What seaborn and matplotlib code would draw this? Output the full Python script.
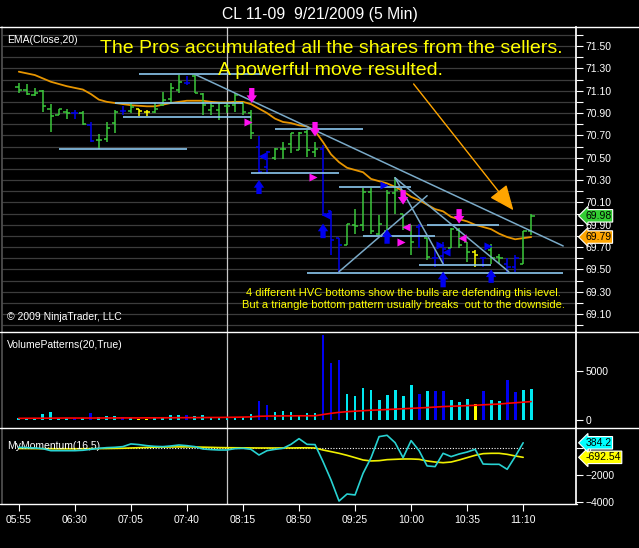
import numpy as np
import pandas as pd
import seaborn as sns
import matplotlib
matplotlib.use("Agg")
import matplotlib.pyplot as plt
from matplotlib.lines import Line2D
from matplotlib.ticker import FixedLocator

# ── Data ────────────────────────────────────────────────────────────────────────
tick_labels = ["05:55", "06:30", "07:05", "07:40", "08:15",
               "08:50", "09:25", "10:00", "10:35", "11:10"]

opens = [71.13, 71.11, 71.06, 71.10, 70.94, 70.88, 70.91, 70.90, 70.90, 70.79,
         70.66, 70.67, 70.81, 70.92, 70.92, 70.94, 70.91, 70.91, 70.97, 71.03,
         71.11, 71.17, 71.23, 71.07, 70.93, 70.93, 70.96, 70.97, 70.99, 70.90,
         70.60, 70.42, 70.50, 70.58, 70.62, 70.57, 70.73, 70.55, 70.58, 70.02,
         69.78, 69.72, 69.90, 69.90, 70.19, 69.82, 69.84, 70.18, 70.00, 69.90,
         69.88, 69.78, 69.60, 69.62, 69.69, 69.85, 69.75, 69.66, 69.60, 69.67,
         69.61, 69.55, 69.52, 69.55, 69.84]
highs = [71.17, 71.16, 71.12, 71.11, 70.98, 70.94, 70.94, 70.93, 70.92, 70.82,
         70.71, 70.82, 70.93, 70.96, 70.99, 70.94, 70.93, 70.99, 71.09, 71.17,
         71.24, 71.23, 71.24, 71.08, 70.99, 70.99, 70.99, 71.08, 71.00, 70.93,
         70.69, 70.56, 70.59, 70.64, 70.72, 70.73, 70.75, 70.64, 70.61, 70.02,
         69.78, 69.91, 70.04, 70.23, 70.23, 69.99, 70.21, 70.33, 70.00, 69.90,
         69.91, 69.78, 69.67, 69.75, 69.87, 69.87, 69.75, 69.67, 69.61, 69.73,
         69.64, 69.60, 69.63, 69.84, 70.00]
lows = [71.08, 71.06, 71.05, 70.91, 70.73, 70.88, 70.85, 70.85, 70.79, 70.64,
        70.58, 70.64, 70.72, 70.88, 70.90, 70.87, 70.87, 70.90, 70.96, 70.99,
        71.08, 71.15, 71.08, 70.88, 70.88, 70.84, 70.90, 70.91, 70.88, 70.67,
        70.36, 70.35, 70.48, 70.49, 70.54, 70.57, 70.51, 70.51, 69.98, 69.63,
        69.48, 69.72, 69.82, 69.84, 69.82, 69.81, 69.84, 70.00, 69.85, 69.63,
        69.69, 69.58, 69.52, 69.54, 69.69, 69.69, 69.57, 69.52, 69.52, 69.55,
        69.55, 69.48, 69.48, 69.55, 69.81]
closes = [71.11, 71.07, 71.08, 70.96, 70.87, 70.94, 70.90, 70.90, 70.80, 70.65,
          70.66, 70.77, 70.91, 70.92, 70.95, 70.92, 70.91, 70.94, 71.02, 71.12,
          71.18, 71.17, 71.08, 70.97, 70.96, 70.99, 70.96, 71.06, 70.91, 70.72,
          70.37, 70.55, 70.58, 70.58, 70.72, 70.72, 70.57, 70.58, 70.00, 69.76,
          69.72, 69.91, 69.89, 70.19, 69.84, 69.91, 70.18, 70.21, 69.88, 69.75,
          69.89, 69.61, 69.60, 69.68, 69.86, 69.72, 69.66, 69.63, 69.60, 69.60,
          69.60, 69.52, 69.60, 69.84, 69.98]
# g = normal, b = high volume, y = low volume
bar_type = list("gggggggbgb" "gggbgyyggg" "gbgggggggg" "bbggggggbb" "bggggggggg"
                "bgbbgggybg" "gbbgg")

ema20 = [71.27, 71.255, 71.24, 71.21, 71.18, 71.16, 71.14, 71.125, 71.11, 71.07,
         71.02, 71.00, 70.99, 70.98, 70.97, 70.965, 70.96, 70.96, 70.975, 70.99,
         71.00, 71.01, 71.01, 71.01, 71.00, 70.995, 70.995, 71.00, 71.00, 70.98,
         70.94, 70.90, 70.85, 70.82, 70.81, 70.79, 70.78, 70.74, 70.64, 70.53,
         70.46, 70.41, 70.39, 70.37, 70.31, 70.29, 70.27, 70.24, 70.20, 70.15,
         70.12, 70.08, 70.04, 70.02, 69.97, 69.95, 69.93, 69.90, 69.88, 69.86,
         69.82, 69.79, 69.77, 69.78, 69.79]

volume = [200, 200, 100, 650, 850, 240, 240, 200, 240, 750,
          270, 440, 440, 300, 200, 130, 130, 170, 300, 480,
          540, 540, 370, 540, 270, 300, 300, 300, 300, 650,
          1970, 1560, 780, 950, 850, 510, 750, 750, 8700, 5800,
          6150, 2700, 2400, 3260, 3100, 2070, 2580, 3100, 2480, 3600,
          2700, 2920, 3000, 3000, 2070, 1800, 2180, 1670, 2920, 2070,
          1900, 4100, 2820, 3100, 3200]
volume_avg = [170, 175, 180, 185, 190, 195, 200, 200, 200, 200,
              205, 205, 210, 215, 215, 215, 220, 220, 225, 230,
              235, 240, 245, 250, 255, 260, 270, 280, 300, 320,
              380, 400, 410, 420, 420, 430, 430, 430, 560, 680,
              780, 850, 900, 950, 1000, 1030, 1070, 1110, 1150, 1190,
              1230, 1270, 1320, 1370, 1400, 1430, 1470, 1500, 1550, 1590,
              1630, 1700, 1760, 1820, 1880]

momentum = [50, 25, 0, -50, -200, -200, -200, -200, -170, -100,
            -25, 25, 50, 100, 300, 250, 170, 120, 100, 150,
            220, 170, 100, -75, -120, -150, -150, -50, -25, -100,
            -520, -200, -100, -25, 270, 690, 270, 250, -1010, -2370,
            -3930, -3410, -3480, -1880, -720, 840, 940, 395, -720, 545,
            -200, -1330, -1380, -395, -640, -445, -300, -100, -1190, -1210,
            -1210, -1580, -640, 384.2]
mom_signal = [-40, -40, -45, -50, -55, -60, -60, -60, -55, -50,
              -45, -40, -30, -20, 0, 20, 40, 60, 70, 75,
              80, 80, 75, 60, 45, 30, 20, 15, 10, 5,
              0, 0, 0, 0, 0, 10, 15, 0, -150, -270,
              -395, -545, -715, -890, -960, -940, -865, -840, -815, -815,
              -840, -960, -1040, -1090, -1040, -890, -715, -545, -420, -395,
              -395, -470, -590, -692.54]

# drawn objects on the price panel (bar index / price)
hl_start = [15, 12, 13, 5, 32, 29, 40, 43, 51, 50, 36]
hl_end = [30.5, 28, 29, 21, 43, 40, 49, 52, 60, 59, 68]
hl_price = [71.246, 70.99, 70.86, 70.575, 70.76, 70.36, 70.234, 69.80, 69.894, 69.536, 69.464]

tl_x0 = [22, 47, 47, 40]
tl_y0 = [71.246, 70.32, 70.32, 69.48]
tl_x1 = [68, 61.2, 53, 51]
tl_y1 = [69.71, 69.48, 69.55, 70.16]

down_x = [29.1, 37, 48, 55]
down_top = [71.124, 70.82, 70.21, 70.04]
down_tip = [70.99, 70.69, 70.08, 69.91]
up_x = [30, 38, 46, 53, 59]
up_bottom = [70.175, 69.78, 69.73, 69.34, 69.38]
up_tip = [70.30, 69.91, 69.86, 69.48, 69.50]

tri_x = [28.6, 36.7, 47.7, 48.4, 55.4, 30.4, 38.4, 53.4, 45.6, 52.6, 58.6]
tri_y = [70.82, 70.33, 69.745, 69.88, 69.78, 70.515, 69.99, 69.66, 70.255, 69.72, 69.71]
tri_kind = ["m>", "m>", "m>", "m<", "m<", "b<", "b<", "b<", "b>", "b>", "b>"]

# ── Style ─────────────────────────────────────────────────────────────────────
sns.set_theme(style="dark", rc={
    "figure.facecolor": "black", "axes.facecolor": "black",
    "savefig.facecolor": "black", "axes.grid": False,
    "patch.edgecolor": "none",
})
plt.rcParams["font.family"] = ["Liberation Sans", "DejaVu Sans"]

GREEN, BLUE, YELLOW, CYAN = "#3CC83C", "#0000F0", "#FFFF00", "#00E8F0"
MAGENTA, ORANGE, LBLUE, DBLUE = "#FF10F0", "#E69500", "#8CC8F0", "#7AAAC8"
price_col = {"g": GREEN, "b": BLUE, "y": YELLOW}
vol_col = {"g": CYAN, "b": BLUE, "y": YELLOW}

n = len(closes)
df = pd.DataFrame({"bar": np.arange(n), "open": opens, "high": highs, "low": lows,
                   "close": closes, "ema": ema20, "vol": volume, "vavg": volume_avg,
                   "kind": bar_type})
dm = pd.DataFrame({"bar": np.arange(len(momentum)), "mom": momentum, "sig": mom_signal})

W, H = 639, 548
fig = plt.figure(figsize=(W / 100, H / 100), dpi=100)


def panel(top, bottom):
    return fig.add_axes([2 / W, 1 - bottom / H, 574 / W, (bottom - top) / H])


ax_p = panel(27, 332)
ax_v = panel(332, 427.7)
ax_m = panel(428, 504)

for ax in (ax_p, ax_v, ax_m):
    ax.set_xlim(-2.1, 69.6)
    for s in ("top", "bottom"):
        ax.spines[s].set_visible(False)
    ax.spines["left"].set_color("#505050")
    ax.spines["right"].set_color("white")
    ax.yaxis.tick_right()
    ax.tick_params(axis="y", which="both", direction="out", length=5, width=0.8,
                   color="white", labelcolor="white", labelsize=7.5, pad=2, right=True, left=False)
    ax.tick_params(axis="x", which="both", bottom=False, labelbottom=False)
    ax.axvline(26, color="#C8C8C8", lw=0.9, zorder=1)

# ── Price panel ────────────────────────────────────────────────────────────────
ax_p.set_ylim(68.94, 71.67)
ax_p.yaxis.set_major_locator(FixedLocator(np.round(np.arange(69.1, 71.6, 0.2), 2)))
ax_p.yaxis.set_minor_locator(FixedLocator(np.round(np.arange(69.0, 71.7, 0.2), 2)))
ax_p.yaxis.set_major_formatter(plt.FormatStrFormatter("%.2f"))
ax_p.grid(axis="y", which="both", color="#3C3C3C", lw=0.9)

cols = [price_col[k] for k in df["kind"]]
ax_p.vlines(df["bar"], df["low"], df["high"], colors=cols, lw=1.1, zorder=4)
ax_p.hlines(df["open"], df["bar"] - 0.42, df["bar"], colors=cols, lw=1.1, zorder=4)
ax_p.hlines(df["close"], df["bar"], df["bar"] + 0.42, colors=cols, lw=1.1, zorder=4)
sns.lineplot(data=df, x="bar", y="ema", ax=ax_p, color=ORANGE, lw=1.3, legend=False, zorder=3)

ax_p.hlines(hl_price, hl_start, hl_end, colors=LBLUE, lw=1.2, zorder=5)
for x0, y0, x1, y1 in zip(tl_x0, tl_y0, tl_x1, tl_y1):
    ax_p.plot([x0, x1], [y0, y1], color=DBLUE, lw=1.1, zorder=5)

arrow_style = "simple,head_length=0.55,head_width=0.75,tail_width=0.38"
for x, y0, y1 in zip(down_x, down_top, down_tip):
    ax_p.annotate("", xy=(x, y1), xytext=(x, y0),
                  arrowprops=dict(arrowstyle=arrow_style, color=MAGENTA, lw=0, mutation_scale=10,
                                  shrinkA=0, shrinkB=0),
                  zorder=6)
for x, y0, y1 in zip(up_x, up_bottom, up_tip):
    ax_p.annotate("", xy=(x, y1), xytext=(x, y0),
                  arrowprops=dict(arrowstyle=arrow_style, color=BLUE, lw=0, mutation_scale=10,
                                  shrinkA=0, shrinkB=0),
                  zorder=6)
for x, y, k in zip(tri_x, tri_y, tri_kind):
    ax_p.scatter([x], [y], marker=k[1], s=34, color=MAGENTA if k[0] == "m" else BLUE,
                 linewidths=0, zorder=6)

ax_p.annotate("", xy=(62, 70.01), xytext=(49.1, 71.18),
              arrowprops=dict(arrowstyle="-|>,head_length=1.3,head_width=0.55",
                              color="#FFA500", lw=1.0, mutation_scale=12), zorder=6)

ax_p.text(0.009, 0.957, "EMA(Close,20)", transform=ax_p.transAxes, color="white",
          fontsize=7.5, va="center", ha="left")
ax_p.text(0.573, 0.931, "The Pros accumulated all the shares from the sellers.",
          transform=ax_p.transAxes, color=YELLOW, fontsize=14, va="center", ha="center", zorder=7)
ax_p.text(0.573, 0.856, "A powerful move resulted.", transform=ax_p.transAxes,
          color=YELLOW, fontsize=14, va="center", ha="center", zorder=7)
ax_p.text(0.699, 0.128, "4 different HVC bottoms show the bulls are defending this level.",
          transform=ax_p.transAxes, color=YELLOW, fontsize=8.0, va="center", ha="center")
ax_p.text(0.699, 0.0885, "But a triangle bottom pattern usually breaks  out to the downside.",
          transform=ax_p.transAxes, color=YELLOW, fontsize=8.0, va="center", ha="center")
ax_p.text(0.008, 0.049, "\u00a9 2009 NinjaTrader, LLC", transform=ax_p.transAxes,
          color="white", fontsize=7.5, va="center", ha="left")

ytr = ax_p.get_yaxis_transform()
ax_p.text(1.016, closes[-1], f"{closes[-1]:.2f}", transform=ytr, color="black", fontsize=7.5,
          va="center", ha="left", zorder=2,
          bbox=dict(boxstyle="larrow,pad=0.12", fc="#32CD32", ec="white", lw=0.8))
ax_p.text(1.016, ema20[-1], f"{ema20[-1]:.2f}", transform=ytr, color="black", fontsize=7.5,
          va="center", ha="left", zorder=2,
          bbox=dict(boxstyle="larrow,pad=0.12", fc="#FFA500", ec="white", lw=0.8))
ax_p.set_xlabel("")
ax_p.set_ylabel("")

# ── Volume panel ───────────────────────────────────────────────────────────────
ax_v.set_ylim(-785, 8980)
ax_v.set_yticks([0, 5000])
ax_v.bar(df["bar"], df["vol"], width=0.36, color=[vol_col[k] for k in df["kind"]],
         linewidth=0, zorder=3)
sns.lineplot(data=df, x="bar", y="vavg", ax=ax_v, color="#FF0000", lw=1.2, legend=False, zorder=4)
ax_v.text(0.009, 0.864, "VolumePatterns(20,True)", transform=ax_v.transAxes, color="white",
          fontsize=7.5, va="center", ha="left")
ax_v.set_xlabel("")
ax_v.set_ylabel("")

# ── Momentum panel ─────────────────────────────────────────────────────────────
ax_m.set_ylim(-4150, 1480)
ax_m.set_yticks([0, -2000, -4000])
ax_m.hlines(0, 0, len(momentum) - 1, colors="white", lw=0.8, linestyles=(0, (1, 1.5)), zorder=2)
sns.lineplot(data=dm, x="bar", y="sig", ax=ax_m, color="#F0F000", lw=1.2, legend=False, zorder=3)
sns.lineplot(data=dm, x="bar", y="mom", ax=ax_m, color="#28D2D2", lw=1.2, legend=False, zorder=4)
ax_m.text(0.009, 0.763, "MyMomentum(16,5)", transform=ax_m.transAxes, color="white",
          fontsize=7.5, va="center", ha="left")
mtr = ax_m.get_yaxis_transform()
ax_m.text(1.016, mom_signal[-1], f"{mom_signal[-1]:.2f}", transform=mtr, color="black",
          fontsize=7.5, va="center", ha="left", zorder=2,
          bbox=dict(boxstyle="larrow,pad=0.12", fc="#FFFF00", ec="white", lw=0.8))
ax_m.text(1.016, momentum[-1], f"{momentum[-1]:.1f}", transform=mtr, color="black",
          fontsize=7.5, va="center", ha="left", zorder=2,
          bbox=dict(boxstyle="larrow,pad=0.12", fc="#00FFFF", ec="white", lw=0.8))
ax_m.set_xticks(np.arange(0, 7 * len(tick_labels), 7))
ax_m.set_xticklabels(tick_labels)
ax_m.tick_params(axis="x", which="major", bottom=True, labelbottom=True, direction="out",
                 length=5, width=0.8, color="white", labelcolor="white", labelsize=7.5, pad=3)
ax_m.set_xlabel("")
ax_m.set_ylabel("")

# panel separators
for y, x1 in ((27, 1.0), (332, 1.0), (427.7, 1.0), (504, 577 / W)):
    fig.add_artist(Line2D([0, x1], [1 - y / H, 1 - y / H], transform=fig.transFigure,
                          color="white", lw=1.0))

fig.text(320 / W, 1 - 14 / H, "CL 11-09  9/21/2009 (5 Min)", color="white", fontsize=11.3,
         ha="center", va="center")

fig.savefig("out.png", dpi=100, facecolor="black")
